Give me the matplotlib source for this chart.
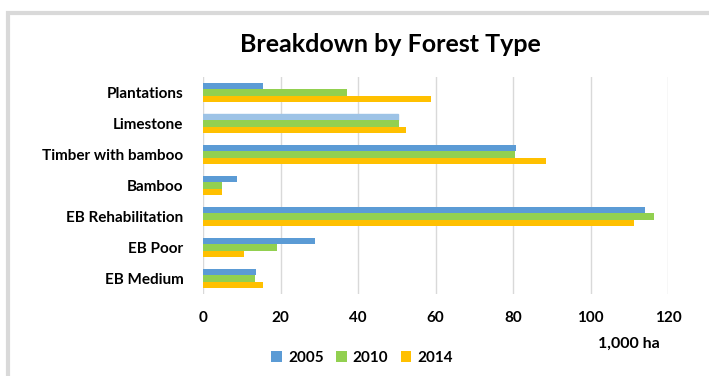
import matplotlib.pyplot as plt
import numpy as np
from matplotlib.patches import Rectangle

# 面积数据（单位：1,000 ha）
categories = ['Plantations', 'Limestone', 'Timber with bamboo', 'Bamboo',
              'EB Rehabilitation', 'EB Poor', 'EB Medium']
years = ['2005', '2010', '2014']
v2005 = [15.5, 50.3, 80.9, 8.7, 114.1, 29.0, 13.8]
v2010 = [37.1, 50.5, 80.6, 5.0, 116.4, 19.0, 13.4]
v2014 = [58.8, 52.3, 88.6, 4.8, 111.3, 10.7, 15.6]
x_ticks = [0, 20, 40, 60, 80, 100, 120]

colors = ['#5B9BD5', '#92D050', '#FFC000']

plt.rcParams['font.family'] = ['Lato', 'DejaVu Sans']

fig = plt.figure(figsize=(7.09, 3.76), dpi=100)
frame = Rectangle((0.011, -0.01), 1.0, 0.975, transform=fig.transFigure,
                  facecolor='white', edgecolor='#D9D9D9', linewidth=3, zorder=-10)
fig.patches.append(frame)

ax = fig.add_axes([203 / 709, 1 - 294 / 376, (668 - 203) / 709, (294 - 77) / 376])
ax.patch.set_alpha(0)
y = np.arange(len(categories))
h = 0.2
for i, (vals, c) in enumerate(zip([v2005, v2010, v2014], colors)):
    bars = ax.barh(y + (i - 1) * h, vals, height=h, color=c, label=years[i], zorder=3)
    if i == 0:
        bars[1].set_color('#9DC3E6')

ax.set_ylim(len(categories) - 0.5, -0.5)
ax.set_xlim(0, 120)
ax.set_xticks(x_ticks)
ax.set_yticks(y)
ax.set_yticklabels(categories, fontsize=11, fontweight='bold')
ax.tick_params(axis='x', labelsize=11, length=0, pad=12)
ax.tick_params(axis='y', length=0, pad=14)
for t in ax.get_xticklabels():
    t.set_fontweight('bold')
ax.grid(axis='x', color='#D9D9D9', linewidth=1, zorder=0)
for s in ax.spines.values():
    s.set_visible(False)

fig.text(390 / 709, 1 - 44 / 376, 'Breakdown by Forest Type', ha='center', va='center',
         fontsize=18, fontweight='bold')
fig.text(629 / 709, 1 - 344 / 376, '1,000 ha', ha='center', va='center',
         fontsize=11.5, fontweight='bold')

ax.legend(loc='center', bbox_to_anchor=(362 / 709, 1 - 358 / 376),
          bbox_transform=fig.transFigure, ncol=3, frameon=False,
          prop={'size': 11, 'weight': 'bold'}, handlelength=0.7, handleheight=0.7,
          handletextpad=0.4, columnspacing=0.8)

fig.savefig('out.png', dpi=100)
